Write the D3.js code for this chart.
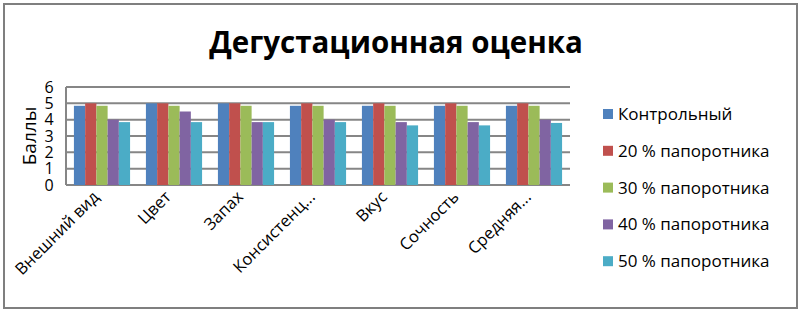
<!DOCTYPE html>
<html>
<head>
<meta charset="utf-8">
<script src="https://cdn.jsdelivr.net/npm/d3@7"></script>
<style>
  body { margin: 0; background: #fff; }
  svg text { font-family: "Open Sans", "Noto Sans", sans-serif; }
</style>
</head>
<body>
<div id="chart"></div>
<script>
const width = 800;
const height = 313;

// data
const categories = ["Внешний вид", "Цвет", "Запах", "Консистенц...", "Вкус", "Сочность", "Средняя..."];
const seriesNames = ["Контрольный", "20 % папоротника", "30 % папоротника", "40 % папоротника", "50 % папоротника"];
const control = [4.85, 5, 5, 4.85, 4.85, 4.85, 4.85];
const fern20 = [5, 5, 5, 5, 5, 5, 5];
const fern30 = [4.85, 4.85, 4.85, 4.85, 4.85, 4.85, 4.85];
const fern40 = [4.0, 4.5, 3.85, 4.0, 3.85, 3.85, 4.0];
const fern50 = [3.85, 3.85, 3.85, 3.85, 3.65, 3.65, 3.8];
const yTicks = [0, 1, 2, 3, 4, 5, 6];
const colors = ["#4F81BD", "#C0504D", "#9BBB59", "#8064A2", "#4BACC6"];

const seriesValues = [control, fern20, fern30, fern40, fern50];

const plot = { left: 66, right: 570, top: 87, bottom: 185 };

const svg = d3.select("#chart")
    .append("svg")
    .attr("width", width)
    .attr("height", height);

// outer frame
svg.append("rect")
    .attr("x", 4).attr("y", 4)
    .attr("width", 793).attr("height", 304)
    .attr("fill", "#fff")
    .attr("stroke", "#7f7f7f")
    .attr("stroke-width", 2);

// title
svg.append("text")
    .attr("x", 396)
    .attr("y", 53)
    .attr("text-anchor", "middle")
    .style("font-size", "29.5px")
    .style("font-weight", "bold")
    .text("Дегустационная оценка");

const x0 = d3.scaleBand()
    .domain(categories)
    .range([plot.left, plot.right])
    .paddingInner(0.22)
    .paddingOuter(0.11);

const x1 = d3.scaleBand()
    .domain(d3.range(seriesNames.length))
    .range([0, x0.bandwidth()]);

const y = d3.scaleLinear()
    .domain([0, 6])
    .range([plot.bottom, plot.top]);

// gridlines
svg.append("g")
    .selectAll("line")
    .data(yTicks)
    .enter()
    .append("line")
    .attr("x1", plot.left)
    .attr("x2", plot.right)
    .attr("y1", d => y(d))
    .attr("y2", d => y(d))
    .attr("stroke", "#868686")
    .attr("stroke-width", 2);

// left axis line
svg.append("line")
    .attr("x1", plot.left).attr("x2", plot.left)
    .attr("y1", plot.top).attr("y2", plot.bottom)
    .attr("stroke", "#868686")
    .attr("stroke-width", 2);

// y tick labels
svg.append("g")
    .selectAll("text")
    .data(yTicks)
    .enter()
    .append("text")
    .attr("x", 49)
    .attr("y", d => y(d) + 5.5)
    .attr("text-anchor", "middle")
    .style("font-size", "16px")
    .text(d => d);

// y axis title
svg.append("text")
    .attr("transform", "translate(36,136) rotate(-90)")
    .attr("text-anchor", "middle")
    .style("font-size", "19px")
    .text("Баллы");

// bars
const groups = svg.append("g")
    .selectAll("g")
    .data(categories)
    .enter()
    .append("g")
    .attr("transform", d => `translate(${x0(d)},0)`);

groups.selectAll("rect")
    .data((d, i) => seriesValues.map((s, k) => ({ k: k, v: s[i] })))
    .enter()
    .append("rect")
    .attr("x", d => x1(d.k))
    .attr("y", d => y(d.v))
    .attr("width", x1.bandwidth())
    .attr("height", d => y(0) - y(d.v))
    .attr("fill", d => colors[d.k]);

// category labels
svg.append("g")
    .selectAll("text")
    .data(categories)
    .enter()
    .append("text")
    .attr("transform", d => `translate(${x0(d) + x0.bandwidth() / 2 - 2},198) rotate(-45)`)
    .attr("text-anchor", "end")
    .style("font-size", "16.5px")
    .text(d => d);

// legend
const legend = svg.append("g")
    .selectAll("g")
    .data(seriesNames)
    .enter()
    .append("g")
    .attr("transform", (d, i) => `translate(603,${114 + i * 36.8})`);

legend.append("rect")
    .attr("x", 0).attr("y", -5)
    .attr("width", 10).attr("height", 10)
    .attr("fill", (d, i) => colors[i]);

legend.append("text")
    .attr("x", 15)
    .attr("y", 6)
    .style("font-size", "17px")
    .text(d => d);
</script>
</body>
</html>
